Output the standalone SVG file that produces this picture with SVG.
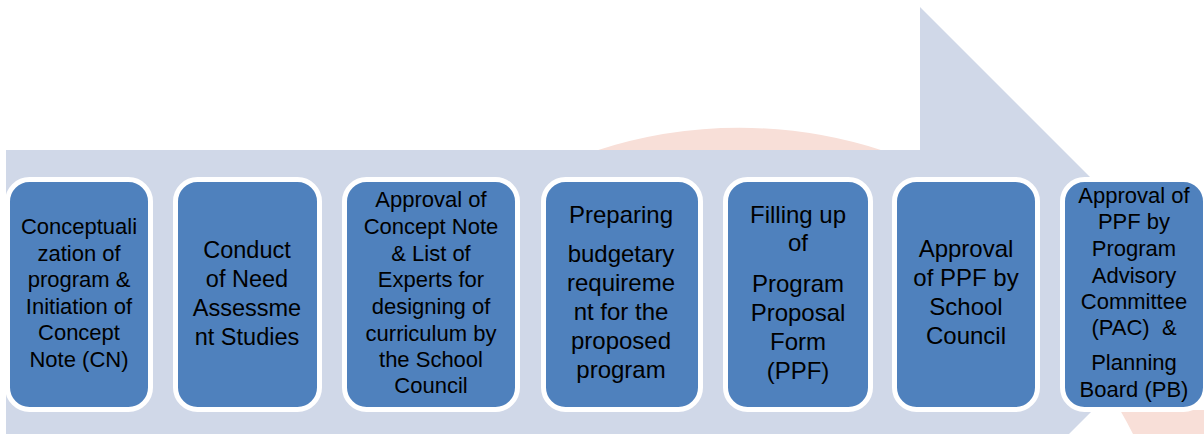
<svg xmlns="http://www.w3.org/2000/svg" width="1204" height="434" viewBox="0 0 1204 434">
<style>
.wm{fill:#F8DFD8}
.arrow{fill:#D0D8E8}
.box{fill:#4F81BD;stroke:#FFFFFF;stroke-width:5}
text{font-family:"Liberation Sans",Arial,sans-serif;fill:#000000;text-anchor:middle}
.s22{font-size:22px}
.s235{font-size:23.5px}
.s24{font-size:24px}
</style>
<rect x="0" y="0" width="1204" height="434" fill="#FFFFFF"/>
<g id="watermark">
<path class="wm" d="M595,151 A462,462 0 0 1 884,151 Z"/>
<path class="wm" d="M1120,410 L1204,410 L1204,434 L1133,434 Q1127,422 1120,410 Z"/>
</g>
<g id="arrow">
<path class="arrow" d="M6,150 L920,150 L920,7 L1208,295 L1060,443 L1060,438 L6,438 Z"/>
</g>
<g id="connectors"></g>
<g id="node1">
<rect class="box" x="7.5" y="179.5" width="143" height="230" rx="22"/>
<text class="s22"><tspan x="79" y="234">Conceptuali</tspan><tspan x="79" y="261">zation of</tspan><tspan x="79" y="287">program &amp;</tspan><tspan x="79" y="314">Initiation of</tspan><tspan x="79" y="340">Concept</tspan><tspan x="79" y="367">Note (CN)</tspan></text>
</g>
<g id="node2">
<rect class="box" x="175.5" y="179.5" width="144" height="230" rx="22"/>
<text class="s235"><tspan x="247" y="258">Conduct</tspan><tspan x="247" y="287">of Need</tspan><tspan x="247" y="316">Assessme</tspan><tspan x="247" y="345">nt Studies</tspan></text>
</g>
<g id="node3">
<rect class="box" x="344.5" y="179.5" width="173" height="230" rx="22"/>
<text class="s22"><tspan x="431" y="207">Approval of</tspan><tspan x="431" y="234">Concept Note</tspan><tspan x="431" y="261">&amp; List of</tspan><tspan x="431" y="287">Experts for</tspan><tspan x="431" y="314">designing of</tspan><tspan x="431" y="341">curriculum by</tspan><tspan x="431" y="367">the School</tspan><tspan x="431" y="393">Council</tspan></text>
</g>
<g id="node4">
<rect class="box" x="543.5" y="179.5" width="157" height="230" rx="22"/>
<text class="s24"><tspan x="621" y="223">Preparing</tspan><tspan x="621" y="262">budgetary</tspan><tspan x="621" y="291">requireme</tspan><tspan x="621" y="320">nt for the</tspan><tspan x="621" y="349">proposed</tspan><tspan x="621" y="378">program</tspan></text>
</g>
<g id="node5">
<rect class="box" x="725.5" y="179.5" width="145" height="230" rx="22"/>
<text class="s24"><tspan x="798" y="223">Filling up</tspan><tspan x="798" y="251">of</tspan><tspan x="798" y="292">Program</tspan><tspan x="798" y="321">Proposal</tspan><tspan x="798" y="350">Form</tspan><tspan x="798" y="379">(PPF)</tspan></text>
</g>
<g id="node6">
<rect class="box" x="894.5" y="179.5" width="143" height="230" rx="22"/>
<text class="s24"><tspan x="966" y="257">Approval</tspan><tspan x="966" y="286">of PPF by</tspan><tspan x="966" y="315">School</tspan><tspan x="966" y="344">Council</tspan></text>
</g>
<g id="node7">
<rect class="box" x="1062.5" y="179.5" width="143" height="230" rx="22"/>
<text class="s22" xml:space="preserve"><tspan x="1134" y="203">Approval of</tspan><tspan x="1134" y="229">PPF by</tspan><tspan x="1134" y="256">Program</tspan><tspan x="1134" y="283">Advisory</tspan><tspan x="1134" y="309">Committee</tspan><tspan x="1134" y="335">(PAC)  &amp;</tspan><tspan x="1134" y="370">Planning</tspan><tspan x="1134" y="397">Board (PB)</tspan></text>
</g>
</svg>
